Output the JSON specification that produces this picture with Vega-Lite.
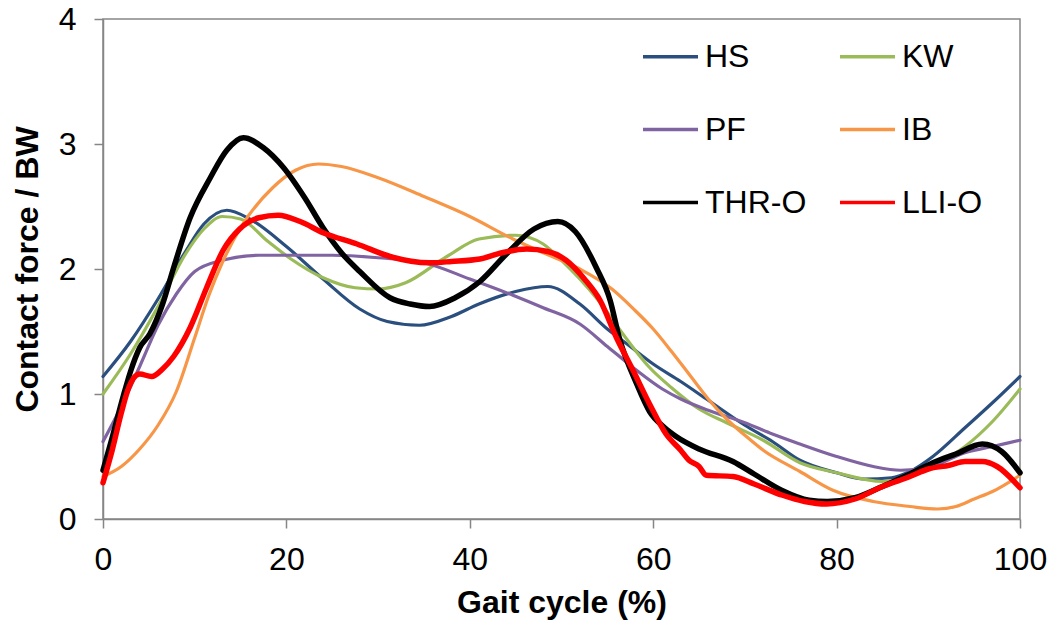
{
  "$schema": "https://vega.github.io/schema/vega-lite/v6.json",
  "autosize": {"type": "none"},
  "padding": {"left": 103, "top": 19, "right": 35, "bottom": 104},
  "width": 917,
  "height": 500,
  "background": "white",
  "config": {
    "font": "Liberation Sans",
    "view": {"stroke": "#868686", "strokeWidth": 1.5},
    "axis": {
      "domainColor": "#868686", "domainWidth": 1.5,
      "ticks": true, "tickColor": "#868686", "tickWidth": 1.5, "tickSize": 9,
      "labelFont": "Liberation Sans", "labelFontSize": 32, "labelColor": "#000000",
      "labelPadding": 18, "labelFlush": false, "labelOverlap": false,
      "titleFont": "Liberation Sans", "titleFontSize": 32, "titleFontWeight": "bold", "titleColor": "#000000",
      "grid": false
    },
    "legend": {
      "labelFont": "Liberation Sans", "labelFontSize": 32, "labelColor": "#000000",
      "padding": 0
    }
  },
  "data": {"values": [
    {"s":"HS","x":0,"y":1.14},{"s":"HS","x":3,"y":1.42},{"s":"HS","x":6,"y":1.76},{"s":"HS","x":9,"y":2.14},{"s":"HS","x":11,"y":2.36},{"s":"HS","x":13.5,"y":2.47},{"s":"HS","x":16,"y":2.4},{"s":"HS","x":20,"y":2.18},{"s":"HS","x":24,"y":1.92},{"s":"HS","x":28,"y":1.68},{"s":"HS","x":31,"y":1.58},{"s":"HS","x":34.5,"y":1.55},{"s":"HS","x":38,"y":1.62},{"s":"HS","x":41,"y":1.72},{"s":"HS","x":45,"y":1.82},{"s":"HS","x":48.5,"y":1.86},{"s":"HS","x":52,"y":1.72},{"s":"HS","x":55,"y":1.52},{"s":"HS","x":57.5,"y":1.38},{"s":"HS","x":60,"y":1.24},{"s":"HS","x":63,"y":1.1},{"s":"HS","x":66,"y":0.95},{"s":"HS","x":70,"y":0.75},{"s":"HS","x":73,"y":0.62},{"s":"HS","x":76,"y":0.47},{"s":"HS","x":80,"y":0.37},{"s":"HS","x":83,"y":0.32},{"s":"HS","x":86,"y":0.33},{"s":"HS","x":88,"y":0.38},{"s":"HS","x":90.5,"y":0.5},{"s":"HS","x":94,"y":0.73},{"s":"HS","x":97,"y":0.93},{"s":"HS","x":100,"y":1.14},
    {"s":"KW","x":0,"y":1.0},{"s":"KW","x":3,"y":1.32},{"s":"KW","x":6,"y":1.7},{"s":"KW","x":9,"y":2.12},{"s":"KW","x":11,"y":2.32},{"s":"KW","x":13,"y":2.42},{"s":"KW","x":15,"y":2.4},{"s":"KW","x":18,"y":2.22},{"s":"KW","x":20.5,"y":2.08},{"s":"KW","x":24,"y":1.93},{"s":"KW","x":27.5,"y":1.85},{"s":"KW","x":30,"y":1.84},{"s":"KW","x":33,"y":1.89},{"s":"KW","x":37.5,"y":2.1},{"s":"KW","x":41,"y":2.24},{"s":"KW","x":45,"y":2.27},{"s":"KW","x":48,"y":2.2},{"s":"KW","x":50,"y":2.07},{"s":"KW","x":52,"y":1.92},{"s":"KW","x":54,"y":1.75},{"s":"KW","x":57,"y":1.45},{"s":"KW","x":59.5,"y":1.22},{"s":"KW","x":62,"y":1.05},{"s":"KW","x":65,"y":0.88},{"s":"KW","x":68,"y":0.77},{"s":"KW","x":72,"y":0.63},{"s":"KW","x":76,"y":0.45},{"s":"KW","x":80,"y":0.37},{"s":"KW","x":85,"y":0.3},{"s":"KW","x":88,"y":0.34},{"s":"KW","x":91,"y":0.44},{"s":"KW","x":94,"y":0.58},{"s":"KW","x":97,"y":0.78},{"s":"KW","x":100,"y":1.04},
    {"s":"PF","x":0,"y":0.62},{"s":"PF","x":2,"y":0.9},{"s":"PF","x":4,"y":1.22},{"s":"PF","x":6,"y":1.55},{"s":"PF","x":8,"y":1.8},{"s":"PF","x":10,"y":1.98},{"s":"PF","x":13,"y":2.07},{"s":"PF","x":17,"y":2.11},{"s":"PF","x":25,"y":2.11},{"s":"PF","x":30,"y":2.09},{"s":"PF","x":35,"y":2.05},{"s":"PF","x":40,"y":1.92},{"s":"PF","x":44.7,"y":1.79},{"s":"PF","x":48,"y":1.69},{"s":"PF","x":52,"y":1.56},{"s":"PF","x":55,"y":1.38},{"s":"PF","x":58,"y":1.2},{"s":"PF","x":61,"y":1.04},{"s":"PF","x":63,"y":0.96},{"s":"PF","x":66,"y":0.87},{"s":"PF","x":70,"y":0.77},{"s":"PF","x":73,"y":0.68},{"s":"PF","x":76,"y":0.6},{"s":"PF","x":80,"y":0.5},{"s":"PF","x":84,"y":0.42},{"s":"PF","x":87,"y":0.39},{"s":"PF","x":90,"y":0.41},{"s":"PF","x":94,"y":0.53},{"s":"PF","x":97,"y":0.58},{"s":"PF","x":100,"y":0.63},
    {"s":"IB","x":0,"y":0.34},{"s":"IB","x":2,"y":0.42},{"s":"IB","x":4,"y":0.56},{"s":"IB","x":6,"y":0.75},{"s":"IB","x":8,"y":1.02},{"s":"IB","x":10,"y":1.45},{"s":"IB","x":11.5,"y":1.78},{"s":"IB","x":13,"y":2.05},{"s":"IB","x":15,"y":2.33},{"s":"IB","x":18.5,"y":2.65},{"s":"IB","x":21,"y":2.79},{"s":"IB","x":23.5,"y":2.84},{"s":"IB","x":26,"y":2.82},{"s":"IB","x":30,"y":2.73},{"s":"IB","x":35,"y":2.58},{"s":"IB","x":40,"y":2.42},{"s":"IB","x":44.7,"y":2.24},{"s":"IB","x":48,"y":2.13},{"s":"IB","x":52,"y":2.0},{"s":"IB","x":55.5,"y":1.84},{"s":"IB","x":58,"y":1.67},{"s":"IB","x":60,"y":1.52},{"s":"IB","x":62,"y":1.34},{"s":"IB","x":64,"y":1.15},{"s":"IB","x":66,"y":0.96},{"s":"IB","x":68,"y":0.8},{"s":"IB","x":70,"y":0.67},{"s":"IB","x":72,"y":0.55},{"s":"IB","x":76,"y":0.38},{"s":"IB","x":79.6,"y":0.23},{"s":"IB","x":84,"y":0.14},{"s":"IB","x":88,"y":0.1},{"s":"IB","x":91,"y":0.08},{"s":"IB","x":93,"y":0.1},{"s":"IB","x":95,"y":0.16},{"s":"IB","x":97,"y":0.22},{"s":"IB","x":100,"y":0.35},
    {"s":"THR-O","x":0,"y":0.39},{"s":"THR-O","x":1,"y":0.65},{"s":"THR-O","x":2.2,"y":0.98},{"s":"THR-O","x":3,"y":1.18},{"s":"THR-O","x":4,"y":1.37},{"s":"THR-O","x":5.1,"y":1.48},{"s":"THR-O","x":6.5,"y":1.72},{"s":"THR-O","x":7.7,"y":2.01},{"s":"THR-O","x":9.5,"y":2.41},{"s":"THR-O","x":11.7,"y":2.73},{"s":"THR-O","x":13.5,"y":2.95},{"s":"THR-O","x":15.3,"y":3.05},{"s":"THR-O","x":17.5,"y":2.97},{"s":"THR-O","x":19.7,"y":2.81},{"s":"THR-O","x":22,"y":2.57},{"s":"THR-O","x":24,"y":2.33},{"s":"THR-O","x":26,"y":2.13},{"s":"THR-O","x":28,"y":1.98},{"s":"THR-O","x":31.3,"y":1.77},{"s":"THR-O","x":33.5,"y":1.72},{"s":"THR-O","x":35.6,"y":1.7},{"s":"THR-O","x":38.4,"y":1.77},{"s":"THR-O","x":41.1,"y":1.9},{"s":"THR-O","x":44,"y":2.12},{"s":"THR-O","x":47,"y":2.32},{"s":"THR-O","x":49.6,"y":2.38},{"s":"THR-O","x":51.5,"y":2.3},{"s":"THR-O","x":53.8,"y":2.01},{"s":"THR-O","x":55.3,"y":1.75},{"s":"THR-O","x":56.3,"y":1.45},{"s":"THR-O","x":58.2,"y":1.08},{"s":"THR-O","x":59.6,"y":0.86},{"s":"THR-O","x":61.1,"y":0.74},{"s":"THR-O","x":62.5,"y":0.66},{"s":"THR-O","x":65,"y":0.56},{"s":"THR-O","x":68.7,"y":0.46},{"s":"THR-O","x":71,"y":0.36},{"s":"THR-O","x":74,"y":0.23},{"s":"THR-O","x":77,"y":0.15},{"s":"THR-O","x":79,"y":0.14},{"s":"THR-O","x":82,"y":0.17},{"s":"THR-O","x":85,"y":0.26},{"s":"THR-O","x":88,"y":0.36},{"s":"THR-O","x":90.5,"y":0.45},{"s":"THR-O","x":93,"y":0.52},{"s":"THR-O","x":95.9,"y":0.6},{"s":"THR-O","x":98,"y":0.54},{"s":"THR-O","x":100,"y":0.37},
    {"s":"LLI-O","x":0,"y":0.29},{"s":"LLI-O","x":1,"y":0.55},{"s":"LLI-O","x":2,"y":0.85},{"s":"LLI-O","x":2.8,"y":1.05},{"s":"LLI-O","x":4,"y":1.16},{"s":"LLI-O","x":5.3,"y":1.14},{"s":"LLI-O","x":6.5,"y":1.2},{"s":"LLI-O","x":7.7,"y":1.3},{"s":"LLI-O","x":9.5,"y":1.53},{"s":"LLI-O","x":11.3,"y":1.85},{"s":"LLI-O","x":13.1,"y":2.15},{"s":"LLI-O","x":14.9,"y":2.32},{"s":"LLI-O","x":17,"y":2.41},{"s":"LLI-O","x":19.1,"y":2.43},{"s":"LLI-O","x":21.5,"y":2.38},{"s":"LLI-O","x":24,"y":2.29},{"s":"LLI-O","x":27.7,"y":2.2},{"s":"LLI-O","x":31.3,"y":2.1},{"s":"LLI-O","x":35.6,"y":2.05},{"s":"LLI-O","x":38,"y":2.06},{"s":"LLI-O","x":41.1,"y":2.08},{"s":"LLI-O","x":43.5,"y":2.13},{"s":"LLI-O","x":46.2,"y":2.16},{"s":"LLI-O","x":48.5,"y":2.14},{"s":"LLI-O","x":50.5,"y":2.07},{"s":"LLI-O","x":52.5,"y":1.92},{"s":"LLI-O","x":54.2,"y":1.75},{"s":"LLI-O","x":56,"y":1.45},{"s":"LLI-O","x":57.8,"y":1.19},{"s":"LLI-O","x":59.6,"y":0.92},{"s":"LLI-O","x":61.4,"y":0.68},{"s":"LLI-O","x":63,"y":0.55},{"s":"LLI-O","x":63.9,"y":0.47},{"s":"LLI-O","x":65,"y":0.42},{"s":"LLI-O","x":65.8,"y":0.35},{"s":"LLI-O","x":68.7,"y":0.34},{"s":"LLI-O","x":71,"y":0.28},{"s":"LLI-O","x":74.1,"y":0.19},{"s":"LLI-O","x":76.5,"y":0.14},{"s":"LLI-O","x":78.9,"y":0.12},{"s":"LLI-O","x":82,"y":0.16},{"s":"LLI-O","x":85,"y":0.26},{"s":"LLI-O","x":88,"y":0.34},{"s":"LLI-O","x":90,"y":0.4},{"s":"LLI-O","x":92.3,"y":0.43},{"s":"LLI-O","x":94,"y":0.46},{"s":"LLI-O","x":95.9,"y":0.46},{"s":"LLI-O","x":97.5,"y":0.42},{"s":"LLI-O","x":100,"y":0.25}
  ]},
  "encoding": {
    "x": {"field": "x", "type": "quantitative",
      "scale": {"domain": [0, 100], "nice": false},
      "axis": {"values": [0, 20, 40, 60, 80, 100], "title": "Gait cycle (%)", "titlePadding": 12,
               "ticks": true, "tickSize": 9, "labelPadding": 16, "labelFlush": false}},
    "y": {"field": "y", "type": "quantitative",
      "scale": {"domain": [0, 4], "nice": false},
      "axis": {"values": [0, 1, 2, 3, 4], "title": "Contact force / BW", "titlePadding": 14,
               "ticks": true, "tickSize": 9, "labelPadding": 18, "labelFlush": false}},
    "color": {"field": "s", "type": "nominal",
      "scale": {"domain": ["HS","KW","PF","IB","THR-O","LLI-O"],
                "range": ["#2A4F7F","#9BBB59","#8064A2","#F79646","#000000","#FF0000"]},
      "legend": {"title": null, "orient": "none", "legendX": 538, "legendY": 8,
                 "columns": 2, "columnPadding": 26, "rowPadding": 27,
                 "symbolType": "stroke", "symbolSize": 3025, "symbolStrokeWidth": 3.5,
                 "labelOffset": 5, "direction": "horizontal",
                 "encoding": {"symbols": {"update": {"strokeWidth": {"signal": "indexof(['THR-O','LLI-O'], datum.value) >= 0 ? 6 : 3.5"}}}}}}
  },
  "layer": [
    {"transform": [{"filter": {"field": "s", "oneOf": ["HS","KW","PF","IB"]}}],
     "mark": {"type": "line", "interpolate": "monotone", "strokeWidth": 3.2, "strokeCap": "round", "strokeJoin": "round"}},
    {"transform": [{"filter": {"field": "s", "oneOf": ["THR-O","LLI-O"]}}],
     "mark": {"type": "line", "interpolate": "monotone", "strokeWidth": 5.5, "strokeCap": "round", "strokeJoin": "round"}}
  ]
}
